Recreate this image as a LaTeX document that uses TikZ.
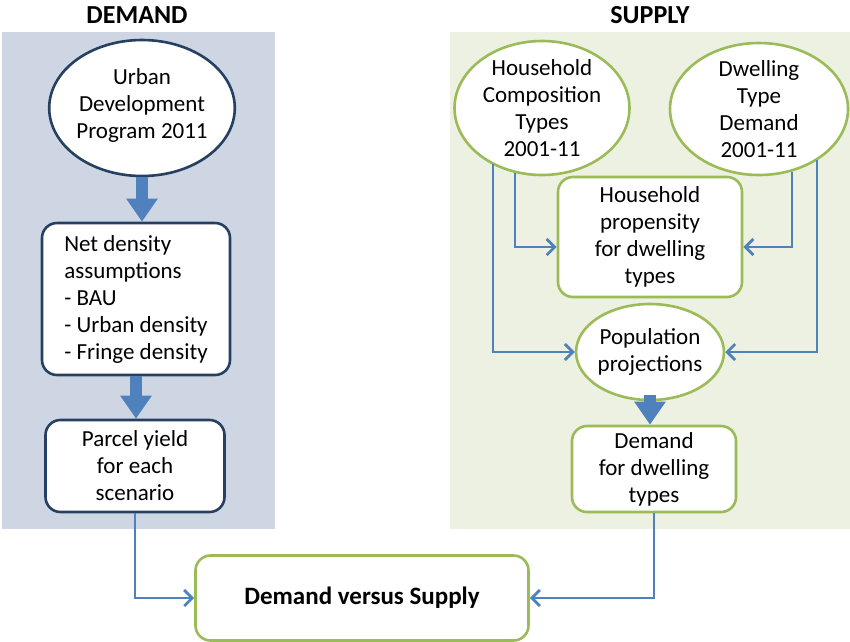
\documentclass[tikz,border=0pt]{standalone}
\usepackage{fontspec}
\setmainfont{Carlito}
\usepackage{xcolor}
\usepackage{tikz}
\usetikzlibrary{arrows.meta,positioning,calc,shapes.geometric,backgrounds}
\definecolor{demandbg}{RGB}{206,214,227}
\definecolor{supplybg}{RGB}{236,241,225}
\definecolor{demandline}{RGB}{38,64,98}
\definecolor{supplyline}{RGB}{155,187,89}
\definecolor{flowblue}{RGB}{79,129,189}

\begin{document}
\begin{tikzpicture}[
    x=1pt, y=-1pt,
    every node/.style={font=\fontsize{23pt}{27pt}\selectfont},
    title/.style={font=\fontsize{26pt}{30pt}\selectfont\bfseries},
    demellipse/.style={ellipse, draw=demandline, line width=2.6pt, fill=white,
        align=center, inner xsep=0pt, inner ysep=-12pt},
    supellipse/.style={ellipse, draw=supplyline, line width=2.6pt, fill=white,
        align=center, inner xsep=0pt, inner ysep=-12pt},
    dembox/.style={draw=demandline, line width=2.6pt, rounded corners=15pt,
        fill=white, align=center, inner sep=3pt},
    supbox/.style={draw=supplyline, line width=2.6pt, rounded corners=15pt,
        fill=white, align=center, inner sep=3pt},
    bigflow/.style={draw=flowblue, line width=12pt,
        -{Triangle[width=30pt,length=23pt]}},
    link/.style={draw=flowblue, line width=2.8pt,
        -{Straight Barb[length=8pt,width=16pt,line width=2.8pt]}},
]
\useasboundingbox (0,0) rectangle (850,641);

% shaded panels and their titles
\fill[demandbg] (2,32) rectangle (275,529);
\fill[supplybg] (450,32) rectangle (850,529);
\node[title] (demandtitle) at (137,15) {DEMAND};
\node[title] (supplytitle) at (650,15) {SUPPLY};

% demand side
\node[demellipse, minimum width=182pt, minimum height=136pt] (urban) at (142,108)
    {Urban\\Development\\Program 2011\\[-18pt]\mbox{}};
\node[dembox, align=left, minimum width=188pt, minimum height=152pt] (netdens) at (136,299)
    {Net density\\assumptions\\- BAU\\- Urban density\\- Fringe density};
\node[dembox, minimum width=179pt, minimum height=92pt] (parcel) at (135,466)
    {Parcel yield\\for each\\scenario};

% supply side
\node[supellipse, minimum width=175pt, minimum height=134pt] (hhcomp) at (542,108)
    {Household\\Composition\\Types\\2001-11};
\node[supellipse, minimum width=178pt, minimum height=132pt] (dwelltype) at (759,109)
    {Dwelling\\Type\\Demand\\2001-11};
\node[supbox, minimum width=184pt, minimum height=120pt] (propensity) at (650,237)
    {Household\\propensity\\for dwelling\\types};
\node[supellipse, inner ysep=-2pt, minimum width=140pt, minimum height=96pt] (popproj) at (650,352)
    {Population\\projections};
\node[supbox, minimum width=164pt, minimum height=86pt] (dwelldemand) at (654,469)
    {Demand\\for dwelling\\types};

% comparison
\node[supbox, font=\fontsize{25pt}{29pt}\selectfont\bfseries,
    minimum width=333pt, minimum height=85pt] (versus) at (362,598)
    {Demand versus Supply};

% thick flow arrows
\draw[bigflow] (urban.south) -- (urban.south |- netdens.north);
\draw[bigflow] (netdens.south) -- (netdens.south |- parcel.north);
\draw[bigflow] ([yshift=6pt]popproj.south) -- (popproj.south |- dwelldemand.north);

% thin connectors
\draw[link] ([xshift=-27pt,yshift=3pt]hhcomp.south) |- ([yshift=-10pt]propensity.west);
\draw[link] ([xshift=33pt,yshift=4pt]dwelltype.south) |- ([yshift=-10pt]propensity.east);
\draw[link] ([xshift=-49pt,yshift=12pt]hhcomp.south) |- (popproj.west);
\draw[link] ([xshift=58pt,yshift=16pt]dwelltype.south) |- (popproj.east);
\draw[link] (parcel.south) |- (versus.west);
\draw[link] (dwelldemand.south) |- (versus.east);
\end{tikzpicture}
\end{document}
